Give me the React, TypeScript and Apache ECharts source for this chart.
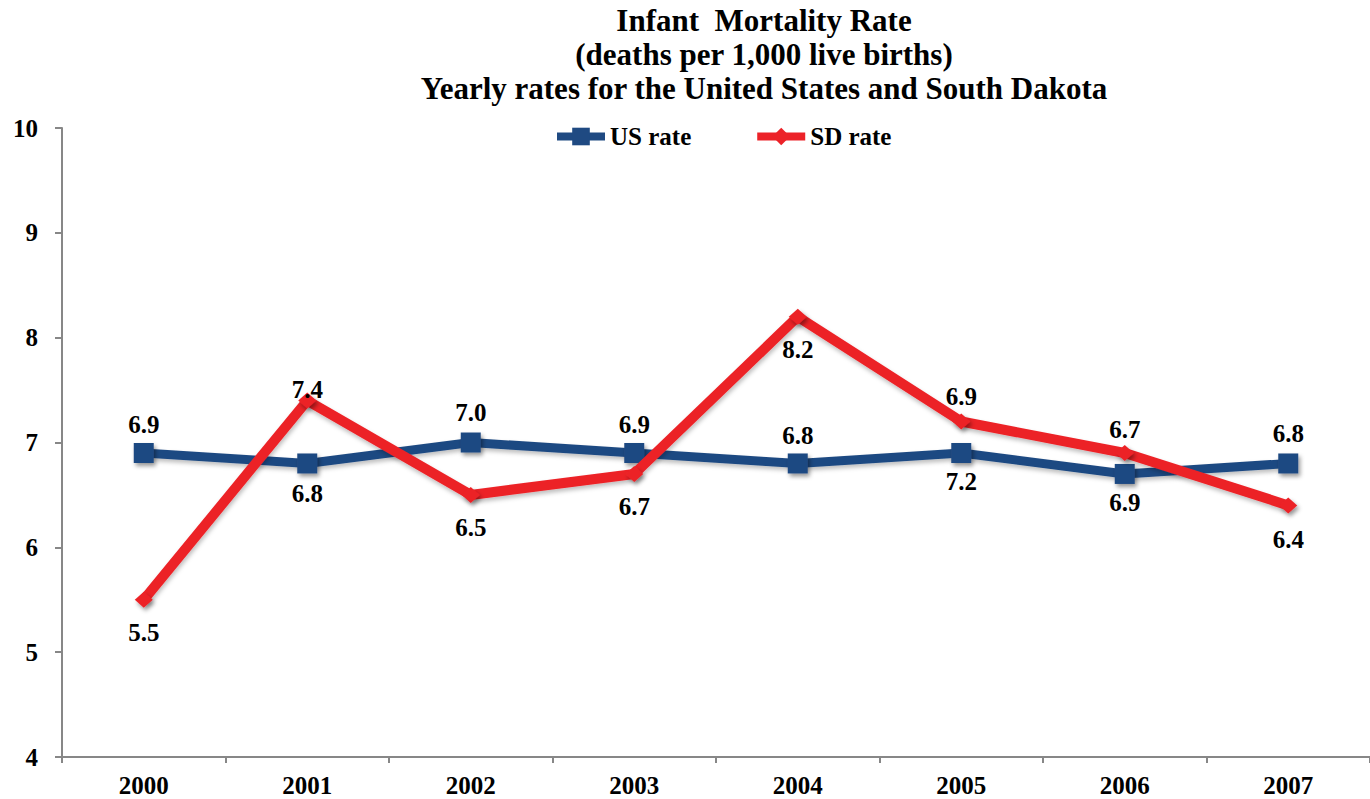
import React, { useEffect, useRef } from "react";
import * as echarts from "echarts";

const years = ["2000", "2001", "2002", "2003", "2004", "2005", "2006", "2007"];
const usRate = [6.9, 6.8, 7.0, 6.9, 6.8, 6.9, 6.7, 6.8];
const sdRate = [5.5, 7.4, 6.5, 6.7, 8.2, 7.2, 6.9, 6.4];
const yTicks = { min: 4, max: 10, interval: 1 };

// label vertical offsets (px, from the marker centre) as placed in the original
const usLabelDy = [-28, 30, -30, -28, -28, -56, -44, -30];
const sdLabelDy = [33, -11, 33, 33, 33, 60, 50, 34];

const FONT = "'Liberation Serif', 'Times New Roman', serif";
const BLUE = "#1F4A82";
const RED = "#EC2228";

export default function App() {
  const ref = useRef<HTMLDivElement>(null);
  useEffect(() => {
    document.body.style.margin = "0";
    const chart = echarts.init(ref.current!, undefined, { renderer: "svg" });
    const labelBase = {
      show: true,
      position: "inside",
      color: "#000",
      fontFamily: FONT,
      fontWeight: "bold",
      fontSize: 25,
      formatter: (p: any) => Number(p.value).toFixed(1),
    };
    chart.setOption({
      animation: false,
      backgroundColor: "#fff",
      title: {
        text: "Infant  Mortality Rate\n(deaths per 1,000 live births)\nYearly rates for the United States and South Dakota",
        left: 764,
        top: 3,
        textAlign: "center",
        padding: 0,
        textStyle: {
          fontFamily: FONT,
          fontWeight: "bold",
          fontSize: 31,
          lineHeight: 34,
          color: "#000",
        },
      },
      legend: {
        left: 553,
        top: 124,
        itemWidth: 48,
        itemHeight: 22,
        itemGap: 62,
        padding: 0,
        lineStyle: { width: 8 },
        textStyle: {
          fontFamily: FONT,
          fontWeight: "bold",
          fontSize: 25,
          color: "#000",
        },
        data: ["US rate", "SD rate"],
      },
      grid: { left: 62, right: -3, top: 128, bottom: 42, containLabel: false },
      xAxis: {
        type: "category",
        data: years,
        boundaryGap: true,
        axisLine: { show: true, lineStyle: { color: "#878787", width: 2 } },
        axisTick: { show: true, length: 6, lineStyle: { color: "#878787", width: 2 } },
        axisLabel: {
          margin: 16,
          color: "#000",
          fontFamily: FONT,
          fontWeight: "bold",
          fontSize: 25,
        },
        splitLine: { show: false },
      },
      yAxis: {
        type: "value",
        min: yTicks.min,
        max: yTicks.max,
        interval: yTicks.interval,
        axisLine: { show: true, lineStyle: { color: "#878787", width: 2 } },
        axisTick: { show: true, length: 7, lineStyle: { color: "#878787", width: 2 } },
        axisLabel: {
          margin: 24,
          color: "#000",
          fontFamily: FONT,
          fontWeight: "bold",
          fontSize: 25,
        },
        splitLine: { show: false },
      },
      series: [
        {
          name: "US rate",
          type: "line",
          data: usRate.map((v, i) => ({
            value: v,
            label: { ...labelBase, offset: [0, usLabelDy[i]] },
          })),
          symbol: "rect",
          symbolSize: 20,
          lineStyle: {
            color: BLUE,
            width: 9,
            shadowBlur: 4,
            shadowOffsetX: 1,
            shadowOffsetY: 3,
            shadowColor: "rgba(0,0,0,0.25)",
          },
          itemStyle: {
            color: BLUE,
            borderWidth: 0,
            shadowBlur: 4,
            shadowOffsetX: 2,
            shadowOffsetY: 3,
            shadowColor: "rgba(0,0,0,0.4)",
          },
          label: labelBase,
          z: 2,
        },
        {
          name: "SD rate",
          type: "line",
          data: sdRate.map((v, i) => ({
            value: v,
            label: { ...labelBase, offset: [0, sdLabelDy[i]] },
          })),
          symbol: "diamond",
          symbolSize: [18, 16],
          lineStyle: {
            color: RED,
            width: 10,
            shadowBlur: 4,
            shadowOffsetX: 1,
            shadowOffsetY: 3,
            shadowColor: "rgba(0,0,0,0.25)",
          },
          itemStyle: {
            color: RED,
            borderWidth: 0,
            shadowBlur: 4,
            shadowOffsetX: 2,
            shadowOffsetY: 3,
            shadowColor: "rgba(0,0,0,0.4)",
          },
          label: labelBase,
          z: 3,
        },
      ],
    });
    return () => chart.dispose();
  }, []);
  return (
    <div
      ref={ref}
      style={{ position: "absolute", left: 0, top: 0, width: 1370, height: 799 }}
    />
  );
}
